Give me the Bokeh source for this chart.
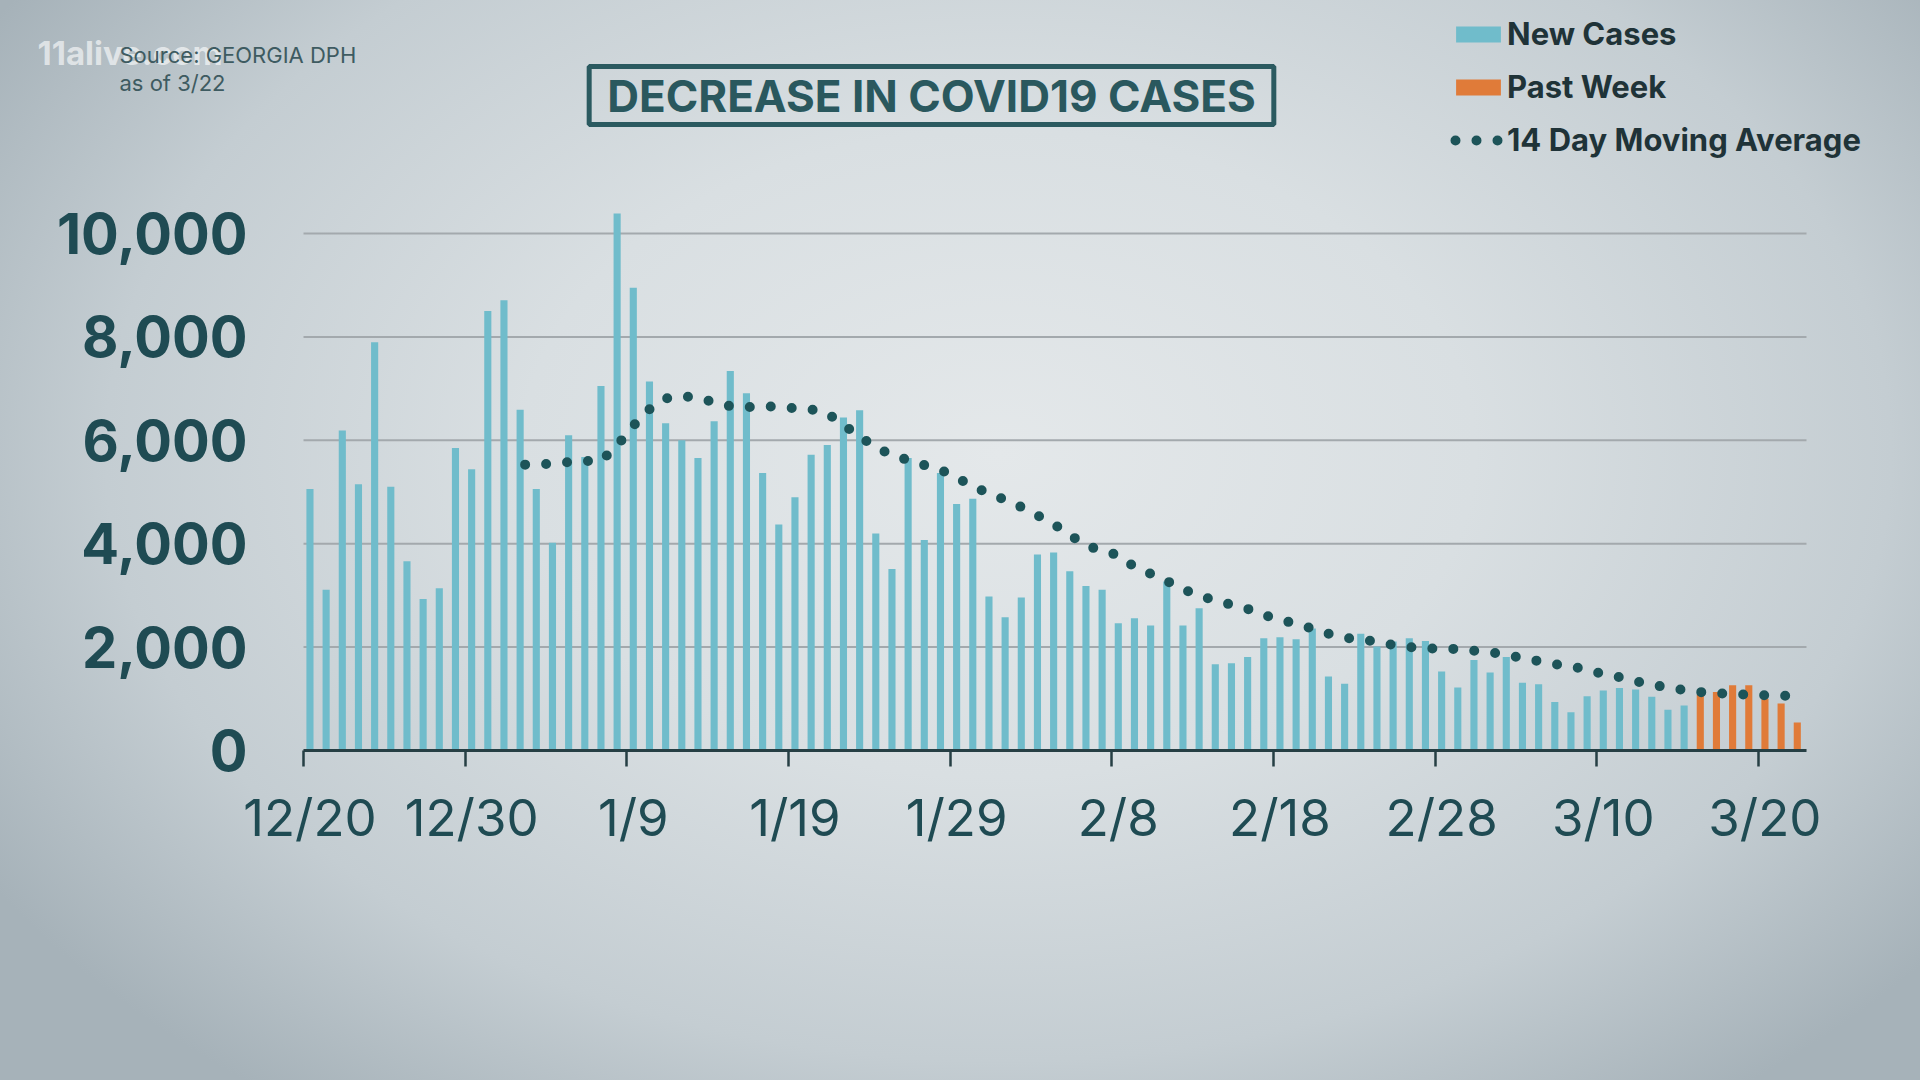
from bokeh.plotting import figure
from bokeh.models import (Range1d, FixedTicker, LinearAxis, NumeralTickFormatter,
                          Label, Legend, LegendItem)
from bokeh.embed import file_html
from bokeh.resources import INLINE

# ---------------- data ----------------
tick_days = [0, 10, 20, 30, 40, 50, 60, 70, 80, 90]
tick_labels = ["12/20", "12/30", "1/9", "1/19", "1/29", "2/8", "2/18", "2/28", "3/10", "3/20"]
y_ticks = [0, 2000, 4000, 6000, 8000, 10000]

# daily new cases 12/20 .. 3/15
new_cases = [5060, 3110, 6190, 5150, 7900, 5100, 3660, 2930, 3140, 5850,
             5440, 8500, 8710, 6590, 5060, 4020, 6100, 5680, 7050, 10390,
             8950, 7140, 6330, 6000, 5660, 6370, 7340, 6910, 5370, 4370,
             4900, 5720, 5910, 6440, 6580, 4200, 3510, 5660, 4070, 5370,
             4770, 4870, 2980, 2580, 2960, 3790, 3830, 3470, 3180, 3110,
             2460, 2560, 2420, 3270, 2420, 2750, 1670, 1690, 1810, 2170,
             2190, 2150, 2360, 1430, 1290, 2260, 2010, 2110, 2170, 2120,
             1530, 1220, 1750, 1510, 1810, 1310, 1280, 940, 740, 1050,
             1160, 1210, 1180, 1040, 790, 870]
# past week 3/16 .. 3/22
past_week = [1080, 1130, 1260, 1260, 1000, 910, 540]

# 14 day moving average, starting 1/2 (day 13) .. 3/22
ma_start_day = 13
moving_avg = [5530, 5530, 5550, 5580, 5600, 5600, 5900, 6280, 6600, 6810,
              6860, 6820, 6740, 6660, 6640, 6660, 6650, 6620, 6600, 6520,
              6300, 6070, 5870, 5710, 5620, 5520, 5430, 5280, 5110, 4970,
              4850, 4710, 4550, 4380, 4170, 3970, 3860, 3780, 3550, 3420,
              3280, 3120, 3000, 2900, 2820, 2740, 2620, 2530, 2450, 2360,
              2260, 2180, 2150, 2100, 2040, 2000, 1970, 1980, 1960, 1930,
              1900, 1850, 1790, 1730, 1670, 1630, 1560, 1480, 1420, 1340,
              1270, 1220, 1170, 1130, 1110, 1090, 1080, 1070, 1060, 1050]

# ---------------- geometry / style (page pixels) ----------------
W, H = 1920, 1080
FRAME_L = 20            # frame spans the whole width; y labels are pushed out over it
DAY0_PX, DAY_END_PX = 303, 1806
N_DAYS = 92.97
BASE_PX, TOP_PX, TOP_VAL = 750, 200, 10640
PXD = (DAY_END_PX - DAY0_PX) / N_DAYS          # px per day
PXV = (BASE_PX - TOP_PX) / TOP_VAL              # px per case
BAR_OFF = 0.4

TEAL = "#70bccb"
ORANGE = "#e07b39"
DARK = "#1f4b53"
DOTS = "#1d5459"
FONT = "Inter"
BG = ("radial-gradient(ellipse 62% 75% at 52% 42%, #e4e8ea 0%, #d9dfe2 40%, "
      "#c4cdd2 75%, #a6b2b9 100%)")


def dx(px):
    return (px - DAY0_PX) / PXD


def dy(py):
    return (BASE_PX - py) / PXV


x_range = Range1d(dx(FRAME_L), dx(W))
y_range = Range1d(0, dy(0))

p = figure(width=W, height=H, output_backend="svg", toolbar_location=None,
           x_range=x_range, y_range=y_range,
           min_border_left=FRAME_L, min_border_right=0,
           min_border_top=0, min_border_bottom=H - BASE_PX)
p.border_fill_color = None
p.background_fill_color = None
p.outline_line_color = None
p.styles = {"background": BG}
p.grid.visible = False

# horizontal grid lines, limited to the chart area
p.segment(x0=[0] * len(y_ticks), x1=[N_DAYS] * len(y_ticks), y0=y_ticks, y1=y_ticks,
          line_color="#a3a9ad", line_width=2)

# bars
x_new = [i + BAR_OFF for i in range(len(new_cases))]
x_past = [len(new_cases) + i + BAR_OFF for i in range(len(past_week))]
r_new = p.vbar(x=x_new, top=new_cases, width=0.44, fill_color=TEAL, line_color=None)
r_past = p.vbar(x=x_past, top=past_week, width=0.44, fill_color=ORANGE, line_color=None)

# moving average (dotted)
ma_x = [ma_start_day + i + BAR_OFF for i in range(len(moving_avg))]
r_ma = p.line(ma_x, moving_avg, line_color=DOTS, line_width=10, line_dash="0 21",
              line_dash_offset=16, line_cap="round")

# y axis (labels pushed right to sit left of the chart area)
ya = p.yaxis[0]
ya.ticker = FixedTicker(ticks=y_ticks)
ya.formatter = NumeralTickFormatter(format="0,0")
ya.axis_line_color = None
ya.major_tick_line_color = None
ya.minor_tick_line_color = None
ya.major_tick_out = 0
ya.major_tick_in = 0
ya.major_label_standoff = FRAME_L - 247
ya.major_label_text_font = FONT
ya.major_label_text_font_size = "56px"
ya.major_label_text_font_style = "bold"
ya.major_label_text_color = DARK

# x axis: line + tick marks
xa = p.xaxis[0]
xa.ticker = FixedTicker(ticks=tick_days)
xa.bounds = (0, N_DAYS)
xa.axis_line_color = "#263f44"
xa.axis_line_width = 3
xa.major_tick_line_color = "#263f44"
xa.major_tick_line_width = 2.5
xa.major_tick_out = 16
xa.major_tick_in = 0
xa.minor_tick_line_color = None
xa.major_label_text_font_size = "2px"
xa.major_label_text_color = None
xa.major_label_standoff = 0

# x axis: date labels centred on the bars
p.extra_x_ranges = {"labels": Range1d(x_range.start - BAR_OFF, x_range.end - BAR_OFF)}
xl = LinearAxis(x_range_name="labels", ticker=FixedTicker(ticks=tick_days),
                major_label_overrides={d: t for d, t in zip(tick_days, tick_labels)},
                axis_line_color=None, major_tick_line_color=None, minor_tick_line_color=None,
                major_tick_out=0, major_tick_in=0, major_label_standoff=20,
                major_label_text_font=FONT, major_label_text_font_size="51px",
                major_label_text_color=DARK)
p.add_layout(xl, "below")

# title box
p.add_layout(Label(x=dx(931), y=dy(95), text="DECREASE IN COVID19 CASES",
                   text_align="center", text_baseline="middle", text_font=FONT,
                   text_font_size="44px", text_font_style="bold", text_color="#2a585e",
                   border_line_color="#2b5a60", border_line_width=5,
                   padding=dict(left=18, right=18, top=2, bottom=2)))

# source + watermark
p.add_layout(Label(x=dx(37), y=dy(52), text="11alive.com", text_baseline="middle",
                   text_font=FONT, text_font_size="33px", text_font_style="bold",
                   text_color="white", text_alpha=0.6))
p.add_layout(Label(x=dx(119), y=dy(54), text="Source: GEORGIA DPH", text_baseline="middle",
                   text_font=FONT, text_font_size="22px", text_color="#3e5b61"))
p.add_layout(Label(x=dx(119), y=dy(82), text="as of 3/22", text_baseline="middle",
                   text_font=FONT, text_font_size="22px", text_color="#3e5b61"))

# legend
legend = Legend(items=[LegendItem(label="New Cases", renderers=[r_new]),
                       LegendItem(label="Past Week", renderers=[r_past]),
                       LegendItem(label="14 Day Moving Average", renderers=[r_ma])],
                location=(1450 - FRAME_L, BASE_PX - 158),
                glyph_width=56, glyph_height=20, label_height=34, label_standoff=1,
                spacing=16, padding=0, margin=0, border_line_color=None,
                background_fill_alpha=0,
                label_text_font=FONT, label_text_font_size="31px",
                label_text_font_style="bold", label_text_color="#1f3338")
p.add_layout(legend, "center")

open("out.html", "w").write(file_html(p, INLINE))
